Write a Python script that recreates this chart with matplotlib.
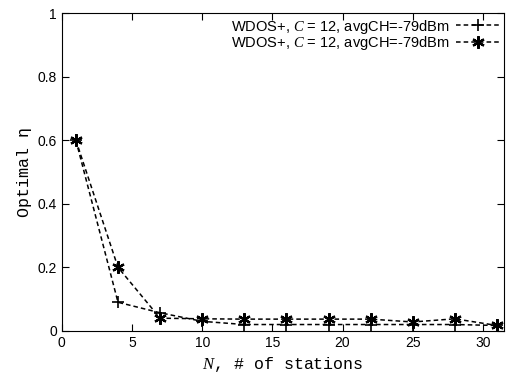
import matplotlib
matplotlib.use('Agg')
import matplotlib.pyplot as plt

# number of stations
stations = [1, 4, 7, 10, 13, 16, 19, 22, 25, 28, 31]
eta_plus = [0.6, 0.09, 0.057, 0.03, 0.02, 0.02, 0.02, 0.02, 0.02, 0.02, 0.017]
eta_star = [0.6, 0.2, 0.04, 0.038, 0.037, 0.037, 0.037, 0.037, 0.028, 0.038, 0.017]
legend_labels = ['WDOS+, $C$ = 12, avgCH=-79dBm', 'WDOS+, $C$ = 12, avgCH=-79dBm']

plt.rcParams['font.family'] = 'Liberation Sans'
plt.rcParams['mathtext.fontset'] = 'custom'
plt.rcParams['mathtext.it'] = 'Liberation Serif:italic'

fig = plt.figure(figsize=(5.07, 3.76), dpi=100)
ax = fig.add_axes([0.122, 0.12, 0.872, 0.845])

ax.plot(stations, eta_plus, color='black', linestyle=(0, (3, 2)), linewidth=1.1,
        marker='+', markersize=9, markeredgewidth=1.2, label=legend_labels[0])
ax.plot(stations, eta_star, color='black', linestyle=(0, (3, 2)), linewidth=1.1,
        marker=(6, 2, 0), markersize=9, markeredgewidth=1.6, label=legend_labels[1])

ax.set_xlim(0, 31.5)
ax.set_ylim(0, 1)
ax.set_xticks([0, 5, 10, 15, 20, 25, 30])
ax.set_yticks([0, 0.2, 0.4, 0.6, 0.8, 1])
ax.set_yticklabels(['0', '0.2', '0.4', '0.6', '0.8', '1'])
ax.tick_params(direction='in', top=True, right=True, length=5, labelsize=10)

ax.set_xlabel('$N$, # of stations', family='Liberation Mono', fontsize=12)
ax.set_ylabel('Optimal η', family='Liberation Mono', fontsize=12)

ax.legend(loc='upper right', frameon=False, markerfirst=False, fontsize=10.5,
          handlelength=3.0, handletextpad=0.4, borderaxespad=0.0,
          borderpad=0.3, labelspacing=-0.1)

fig.savefig('out.png', dpi=100)
